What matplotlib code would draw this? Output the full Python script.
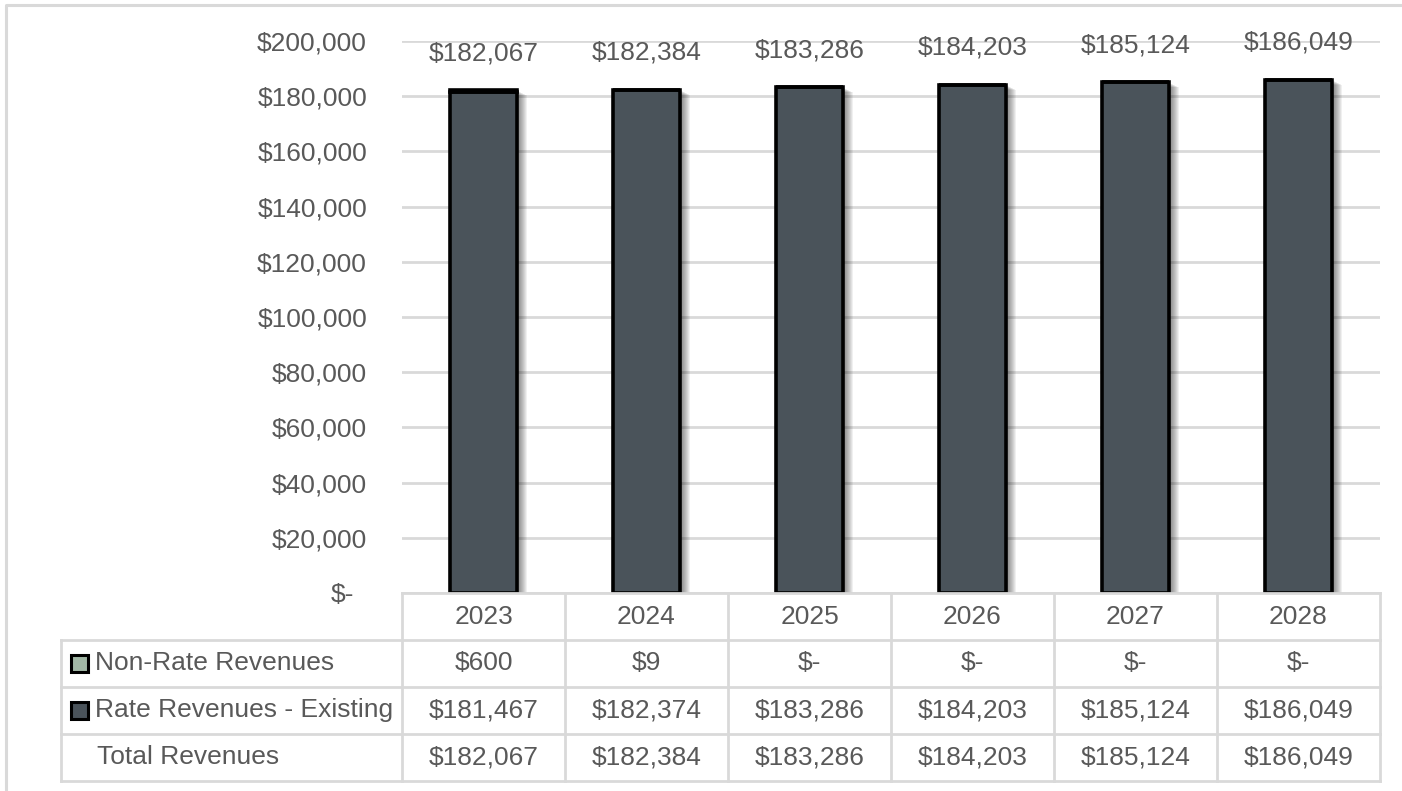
import matplotlib
matplotlib.use("Agg")
import matplotlib.pyplot as plt
from matplotlib.patches import Rectangle
from matplotlib.lines import Line2D
from matplotlib.transforms import ScaledTranslation

plt.rcParams['font.family'] = ['Liberation Sans', 'DejaVu Sans']

# ---- data ----
years = ["2023", "2024", "2025", "2026", "2027", "2028"]
non_rate = [600, 9, 0, 0, 0, 0]
rate_existing = [181467, 182374, 183286, 184203, 185124, 186049]
totals = [182067, 182384, 183286, 184203, 185124, 186049]
row_labels = ["Non-Rate Revenues", "Rate Revenues - Existing", "Total Revenues"]
y_ticks = [0, 20000, 40000, 60000, 80000, 100000, 120000, 140000, 160000, 180000, 200000]

# ---- style ----
W, H, DPI = 1402, 791, 100
TEXT = "#595959"
GRID = "#D9D9D9"
C_RATE = "#4A535A"
C_NONRATE = "#A2B8A6"
FS = 19


def money(v):
    return "$-" if v == 0 else "${:,.0f}".format(v)


fig = plt.figure(figsize=(W / DPI, H / DPI), dpi=DPI)
fig.patch.set_facecolor("white")


def fx(px):
    return px / W


def fy(py):
    return 1 - py / H


# outer chart frame (top and left edges)
fig.add_artist(Line2D([fx(6), fx(6), 1.0], [0.0, fy(5), fy(5)], color=GRID,
                      linewidth=2.2, transform=fig.transFigure))

# plot area
left, right, top, bottom = 402, 1380, 41, 593
ax = fig.add_axes([fx(left), fy(bottom), fx(right) - fx(left), fy(top) - fy(bottom)])
ax.set_xlim(-0.5, len(years) - 0.5)
ax.set_ylim(0, 200000)
for s in ax.spines.values():
    s.set_visible(False)
ax.set_xticks([])
ax.set_yticks(y_ticks)
ax.set_yticklabels([money(v) for v in y_ticks])
ax.tick_params(axis="y", length=0, pad=35 * 0.72, labelsize=FS, labelcolor=TEXT)
ax.grid(axis="y", color=GRID, linewidth=2)
ax.set_axisbelow(True)
for lbl, v in zip(ax.get_yticklabels(), y_ticks):
    if v == 0:
        lbl.set_transform(lbl.get_transform() + ScaledTranslation(-13 / DPI, 0, fig.dpi_scale_trans))

x = list(range(len(years)))
bw = 0.41
px_x = (len(years)) / (right - left)
px_y = 200000 / (bottom - top)

# soft drop shadow to the right of each bar
for k in range(1, 11):
    ax.bar([i + k * px_x for i in x], totals, width=bw,
           bottom=[-k * 0.5 * px_y] * len(x),
           color="black", alpha=0.06, linewidth=0, zorder=2)

ax.bar(x, rate_existing, width=bw, color=C_RATE, edgecolor="black",
       linewidth=2.6, zorder=3)
ax.bar(x, non_rate, width=bw, bottom=rate_existing, color=C_NONRATE,
       edgecolor="black", linewidth=2.6, zorder=3)

for i, t in zip(x, totals):
    ax.annotate(money(t), (i, t), xytext=(0, 25 * 0.72), textcoords="offset points",
                ha="center", va="bottom", fontsize=FS, color=TEXT,
                annotation_clip=False)

# ---- data table ----
row_tops = [593, 640, 687, 734, 781]
col_w = (right - left) / len(years)
tbl_left = 61
lw = 2


def hline(y, x0, x1):
    fig.add_artist(Line2D([fx(x0), fx(x1)], [fy(y), fy(y)], color=GRID,
                          linewidth=lw, transform=fig.transFigure))


def vline(xp, y0, y1):
    fig.add_artist(Line2D([fx(xp), fx(xp)], [fy(y0), fy(y1)], color=GRID,
                          linewidth=lw, transform=fig.transFigure))


hline(row_tops[0], left, right)
for y in row_tops[1:]:
    hline(y, tbl_left, right)
vline(tbl_left, row_tops[1], row_tops[-1])
for j in range(len(years) + 1):
    vline(left + j * col_w, row_tops[0], row_tops[-1])

# header row with years
yc = (row_tops[0] + row_tops[1]) / 2
for j, yr in enumerate(years):
    fig.text(fx(left + (j + 0.5) * col_w), fy(yc), yr, ha="center", va="center",
             fontsize=FS, color=TEXT)

rows = [non_rate, rate_existing, totals]
swatches = [C_NONRATE, C_RATE, None]
for r, (lab, vals, sw) in enumerate(zip(row_labels, rows, swatches)):
    yc = (row_tops[r + 1] + row_tops[r + 2]) / 2
    if sw is not None:
        sq = 17
        fig.add_artist(Rectangle((fx(71), fy(yc + sq / 2)), fx(sq), sq / H,
                                 transform=fig.transFigure, facecolor=sw,
                                 edgecolor="black", linewidth=2.2))
        tx = 95
    else:
        tx = 97
    fig.text(fx(tx), fy(yc), lab, ha="left", va="center", fontsize=FS, color=TEXT)
    for j, v in enumerate(vals):
        fig.text(fx(left + (j + 0.5) * col_w), fy(yc), money(v), ha="center",
                 va="center", fontsize=FS, color=TEXT)

fig.savefig("out.png", dpi=DPI, facecolor="white")
